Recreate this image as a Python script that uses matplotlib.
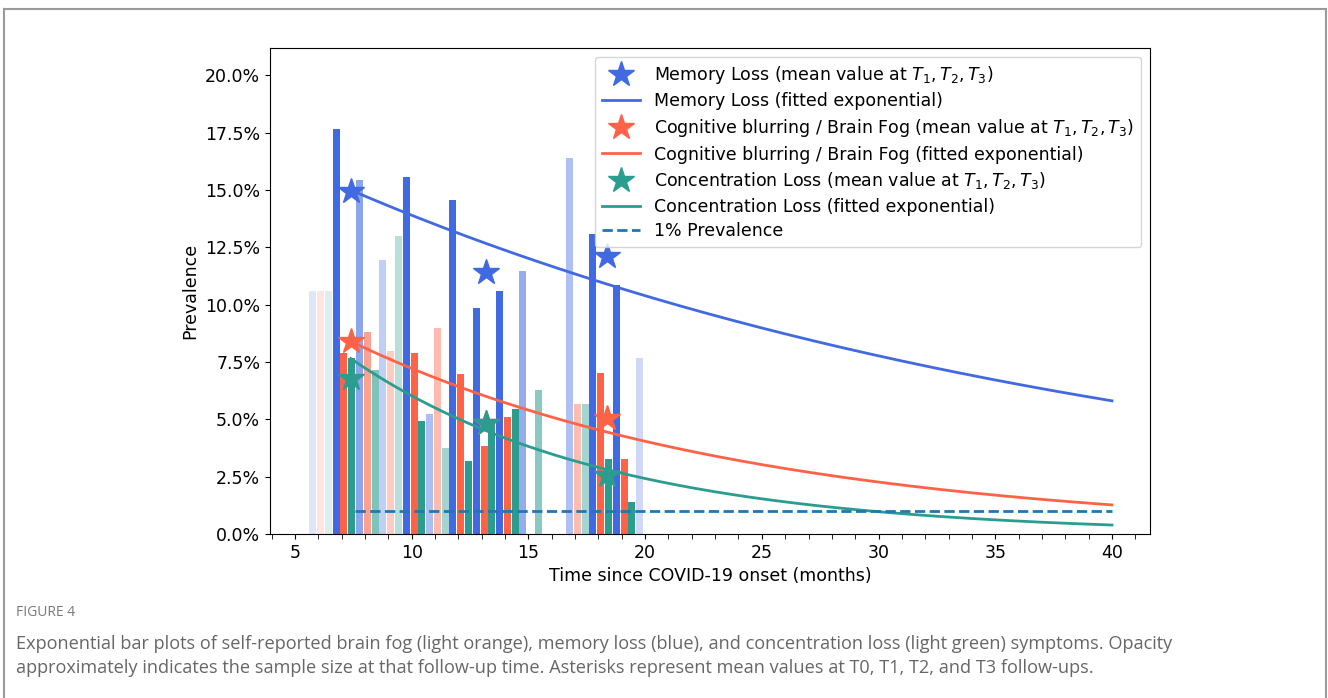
import numpy as np
import matplotlib
matplotlib.use("Agg")
import matplotlib.pyplot as plt
from matplotlib.ticker import PercentFormatter, MultipleLocator
from matplotlib.lines import Line2D

# ----- data -----
months = [6, 7, 8, 9, 10, 11, 12, 13, 14, 15, 17, 18, 19, 20]
memory_loss = [0.106, 0.1767, 0.1544, 0.1196, 0.1559, 0.0524, 0.1457, 0.0986, 0.1058, 0.1148, 0.1641, 0.1309, 0.1084, 0.0767]
brain_fog = [0.106, 0.0789, 0.0882, 0.0799, 0.0789, 0.0898, 0.0697, 0.0383, 0.0511, np.nan, 0.0568, 0.0702, 0.0326, np.nan]
concentration = [0.106, 0.0769, 0.0716, 0.1298, 0.0493, 0.0374, 0.0319, 0.0490, 0.0544, 0.0629, 0.0568, 0.0327, 0.0140, np.nan]
opacity = [0.16, 1.0, 0.6, 0.32, 1.0, 0.43, 1.0, 1.0, 1.0, 0.55, 0.42, 1.0, 1.0, 0.25]

t_means = [7.39, 13.17, 18.35]
memory_means = [0.1495, 0.1143, 0.1211]
fog_means = [0.0840, 0.0483, 0.0508]
conc_means = [0.0680, 0.0483, 0.0258]

# fitted exponentials: value at t0 and decay rate per month
fit_t0 = 7.39
fit_t1 = 40
memory_fit = (0.150, 0.0291)
fog_fit = (0.084, 0.0580)
conc_fit = (0.0765, 0.0913)

prevalence_line = 0.01
prevalence_start = 7.56

c_mem = "#4169E1"
c_fog = "#FF6347"
c_conc = "#2A9D8F"

plt.rcParams["font.family"] = ["DejaVu Sans"]
fig = plt.figure(figsize=(13.28, 6.98), dpi=100)
ax = fig.add_axes([0.2033, 0.2350, 0.6627, 0.6963])

w = 0.3
step = 1 / 3
x = np.array(months, dtype=float) + 0.1
for i in range(len(months)):
    a = opacity[i]
    ax.bar(x[i] - step, memory_loss[i], width=w, color=c_mem, alpha=a)
    ax.bar(x[i], brain_fog[i], width=w, color=c_fog, alpha=a)
    ax.bar(x[i] + step, concentration[i], width=w, color=c_conc, alpha=a)

tt = np.linspace(fit_t0, fit_t1, 200)
sub = r"$T_1, T_2, T_3$"
ms = 19
ax.plot(t_means, memory_means, "*", color=c_mem, ms=ms, ls="none",
        label=f"Memory Loss (mean value at {sub})")
ax.plot(tt, memory_fit[0] * np.exp(-memory_fit[1] * (tt - fit_t0)), color=c_mem, lw=2,
        label="Memory Loss (fitted exponential)")
ax.plot(t_means, fog_means, "*", color=c_fog, ms=ms, ls="none",
        label=f"Cognitive blurring / Brain Fog (mean value at {sub})")
ax.plot(tt, fog_fit[0] * np.exp(-fog_fit[1] * (tt - fit_t0)), color=c_fog, lw=2,
        label="Cognitive blurring / Brain Fog (fitted exponential)")
ax.plot(t_means, conc_means, "*", color=c_conc, ms=ms, ls="none",
        label=f"Concentration Loss (mean value at {sub})")
ax.plot(tt, conc_fit[0] * np.exp(-conc_fit[1] * (tt - fit_t0)), color=c_conc, lw=2,
        label="Concentration Loss (fitted exponential)")
ax.plot([prevalence_start, fit_t1], [prevalence_line, prevalence_line], "--",
        color="#1f77b4", lw=2, label="1% Prevalence")

ax.set_xlim(3.93, 41.63)
ax.set_ylim(0, 0.212)
ax.xaxis.set_major_locator(MultipleLocator(5))
ax.xaxis.set_minor_locator(MultipleLocator(1))
ax.yaxis.set_major_locator(MultipleLocator(0.025))
ax.yaxis.set_major_formatter(PercentFormatter(1.0, decimals=1))
ax.tick_params(labelsize=12.5)
ax.tick_params(which="minor", length=3.5)
ax.set_xlabel("Time since COVID-19 onset (months)", fontsize=12.5)
ax.set_ylabel("Prevalence", fontsize=12.5)
ax.legend(loc="upper right", fontsize=12.55, labelspacing=0.38, borderpad=0.4,
          handletextpad=0.8, handlelength=2.2)

# page frame and caption
frame_kw = dict(color="#9a9a9a", lw=1.5, transform=fig.transFigure)
fig.add_artist(Line2D([4 / 1328, 4 / 1328], [0, 1 - 9 / 698], **frame_kw))
fig.add_artist(Line2D([4 / 1328, 1326 / 1328], [1 - 9 / 698, 1 - 9 / 698], **frame_kw))
fig.add_artist(Line2D([1326 / 1328, 1326 / 1328], [0, 1 - 9 / 698], **frame_kw))

fig.text(16 / 1328, 1 - 612 / 698, "FIGURE 4", fontsize=10, color="#7a7a7a",
         family="Open Sans", va="center")
fig.text(16 / 1328, 1 - 644 / 698,
         "Exponential bar plots of self-reported brain fog (light orange), memory loss (blue), "
         "and concentration loss (light green) symptoms. Opacity",
         fontsize=13.1, color="#666666", family="Open Sans", va="center")
fig.text(16 / 1328, 1 - 668 / 698,
         "approximately indicates the sample size at that follow-up time. Asterisks represent "
         "mean values at T0, T1, T2, and T3 follow-ups.",
         fontsize=13.1, color="#666666", family="Open Sans", va="center")

fig.savefig("out.png", dpi=100)
